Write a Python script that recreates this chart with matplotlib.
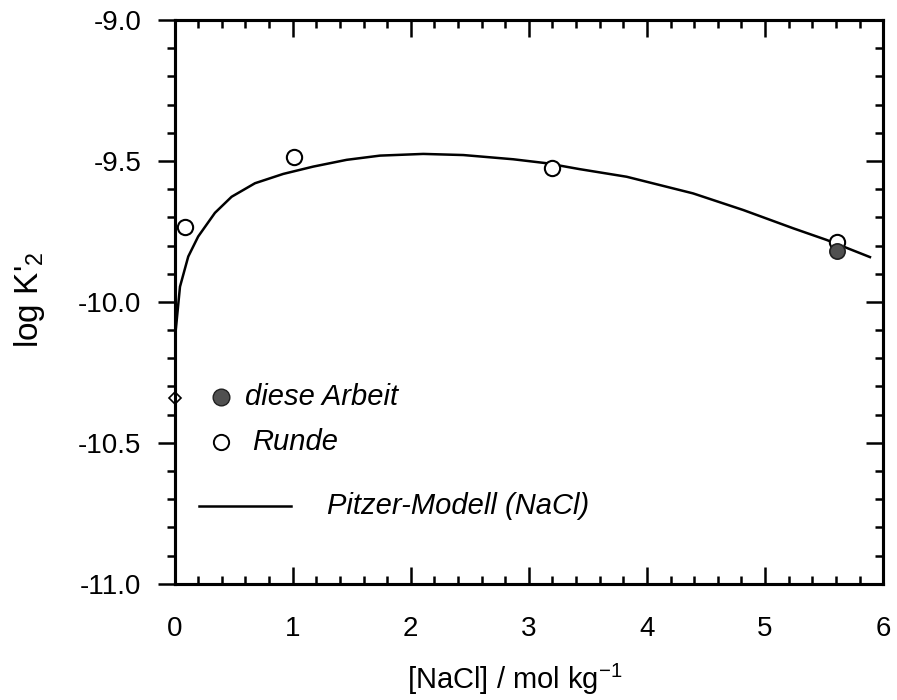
import numpy as np
import matplotlib.pyplot as plt
from matplotlib.ticker import MultipleLocator, FuncFormatter

plt.rcParams['font.family'] = ['Liberation Sans', 'DejaVu Sans']
plt.rcParams['mathtext.fontset'] = 'custom'
plt.rcParams['mathtext.rm'] = 'Liberation Sans'
plt.rcParams['mathtext.it'] = 'Liberation Sans:italic'

# Pitzer model curve, log K'2 vs. NaCl molality
pitzer_m = [0.0, 0.01, 0.046, 0.116, 0.20, 0.342, 0.483, 0.681, 0.92, 1.174,
            1.457, 1.74, 2.106, 2.445, 2.868, 3.15, 3.43, 3.828, 4.39, 4.815,
            5.239, 5.52, 5.888]
pitzer_logk = [-10.19, -10.10, -9.946, -9.839, -9.768, -9.684, -9.627, -9.579,
               -9.546, -9.52, -9.496, -9.481, -9.475, -9.479, -9.494, -9.508,
               -9.529, -9.556, -9.615, -9.674, -9.739, -9.78, -9.841]

# measured values
runde_m = [0.09, 1.01, 3.2, 5.61]
runde_logk = [-9.735, -9.485, -9.525, -9.786]
arbeit_m = [5.61]
arbeit_logk = [-9.818]
zero_m = [0.0]
zero_logk = [-10.34]

fig = plt.figure(figsize=(8.97, 7.0), dpi=100)
ax = fig.add_axes([0.1946, 0.166, 0.79, 0.8054])

ax.plot(pitzer_m, pitzer_logk, color='black', lw=1.8, zorder=2)
ax.plot(runde_m, runde_logk, 'o', ms=11, mfc='white', mec='black', mew=1.5, zorder=3)
ax.plot(arbeit_m, arbeit_logk, 'o', ms=11, mfc='#505050', mec='#202020', mew=1.2, zorder=4)
ax.plot(zero_m, zero_logk, 'D', ms=6, mfc='white', mec='black', mew=1.2,
        clip_on=False, zorder=5)

ax.set_xlim(0, 6)
ax.set_ylim(-11.0, -9.0)

# right-hand ticks point inward, left ones outward
ax_r = ax.twinx()
ax_r.set_ylim(ax.get_ylim())
ax_r.yaxis.set_major_locator(MultipleLocator(0.5))
ax_r.yaxis.set_minor_locator(MultipleLocator(0.1))
ax_r.tick_params(axis='y', which='both', direction='in', width=1.8, labelright=False)
ax_r.tick_params(axis='y', which='major', length=12)
ax_r.tick_params(axis='y', which='minor', length=6)

for a in (ax, ax_r):
    for sp in a.spines.values():
        sp.set_linewidth(2.2)

ax.xaxis.set_major_locator(MultipleLocator(1))
ax.xaxis.set_minor_locator(MultipleLocator(0.2))
ax.yaxis.set_major_locator(MultipleLocator(0.5))
ax.yaxis.set_minor_locator(MultipleLocator(0.1))
ax.yaxis.set_major_formatter(FuncFormatter(lambda v, p: f'{v:.1f}'))
ax.xaxis.set_major_formatter(FuncFormatter(lambda v, p: f'{v:.0f}'))

ax.tick_params(axis='x', which='both', direction='in', top=True, bottom=True,
               width=1.8, labelsize=20, pad=23)
ax.tick_params(axis='x', which='major', length=12)
ax.tick_params(axis='x', which='minor', length=6)
ax.tick_params(axis='y', which='both', direction='out', left=True, right=False,
               width=1.8, labelsize=20, pad=12)
ax.tick_params(axis='y', which='major', length=12)
ax.tick_params(axis='y', which='minor', length=6)

ax.set_xlabel(r'[NaCl] / mol kg$^{\mathrm{-1}}$', fontsize=21, va='top')
ax.xaxis.set_label_coords(0.48, -0.138)
ax.set_ylabel(r"log K'$_{\mathrm{2}}$", fontsize=24, va='center')
ax.yaxis.set_label_coords(-0.204, 0.504)

# legend
tr = ax.transAxes
ax.plot([0.0655], [0.3316], 'o', ms=12, mfc='#505050', mec='#202020', mew=1.0, transform=tr)
ax.text(0.0994, 0.3316, 'diese Arbeit', transform=tr, fontsize=21, style='italic', va='center')
ax.plot([0.0655], [0.2518], 'o', ms=11, mfc='white', mec='black', mew=1.4, transform=tr)
ax.text(0.109, 0.2518, 'Runde', transform=tr, fontsize=21, style='italic', va='center')
ax.plot([0.0344, 0.164], [0.138, 0.138], color='black', lw=1.8, transform=tr)
ax.text(0.215, 0.138, 'Pitzer-Modell (NaCl)', transform=tr, fontsize=21, style='italic', va='center')

fig.savefig('out.png', dpi=100)
